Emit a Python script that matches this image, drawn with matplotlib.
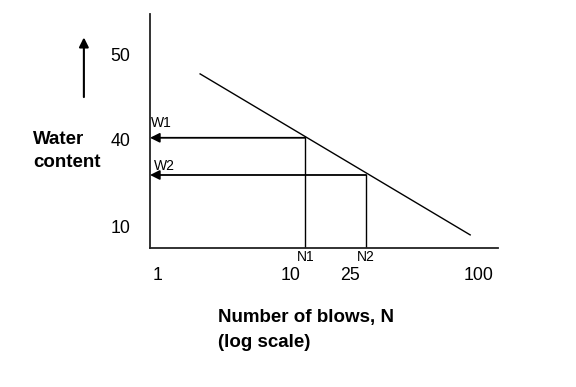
import matplotlib
matplotlib.use("Agg")
import matplotlib.pyplot as plt

plt.rcParams['font.family'] = ['Liberation Sans', 'DejaVu Sans']

# Schematic coordinates (arbitrary 0-100 units on both axes)
flow_x = [14.4, 92.0]          # flow line, log N position
flow_y = [74.4, 5.6]           # flow line, water content position
point_x = [44.6, 62.1]         # N1, N2 positions
point_y = [47.1, 31.2]         # W1, W2 levels
point_n_labels = ['N1', 'N2']
point_w_labels = ['W1', 'W2']
xtick_pos = [2.3, 40.5, 57.5, 94.3]
xtick_labels = ['1', '10', '25', '100']
ytick_pos = [82.5, 46.2, 9.4]
ytick_labels = ['50', '40', '10']

fig = plt.figure(figsize=(5.76, 3.87), dpi=100)
ax = fig.add_axes([150/576, 1-248/387, 348/576, 234/387])
ax.set_xlim(0, 100)
ax.set_ylim(0, 100)
for s in ['top', 'right']:
    ax.spines[s].set_visible(False)
for s in ['left', 'bottom']:
    ax.spines[s].set_linewidth(1.3)
    ax.spines[s].set_color('#222222')

ax.set_xticks(xtick_pos, xtick_labels)
ax.set_yticks(ytick_pos, ytick_labels)
ax.tick_params(axis='both', length=0, labelsize=12.8)
ax.tick_params(axis='x', pad=14)
ax.tick_params(axis='y', pad=14)

ax.plot(flow_x, flow_y, color='black', lw=1.0)

for x, y, nl, wl, dx, dy in zip(point_x, point_y, point_n_labels, point_w_labels,
                                [0.3, 1.1], [6.3, 3.8]):
    ax.plot([x, x], [0, y], color='black', lw=1.0)
    ax.annotate('', xy=(0, y), xytext=(x, y),
                arrowprops=dict(arrowstyle='-|>', color='black', lw=1.3,
                                mutation_scale=14, shrinkA=0, shrinkB=0))
    ax.text(x, -3.8, nl, ha='center', va='center', fontsize=10)
    ax.text(dx, y + dy, wl, ha='left', va='center', fontsize=10)

# Up arrow beside y axis
ax.annotate('', xy=(-19.0, 90.0), xytext=(-19.0, 64.5), xycoords='data',
            arrowprops=dict(arrowstyle='-|>', color='black', lw=1.5,
                            mutation_scale=14, shrinkA=0, shrinkB=0),
            annotation_clip=False)

ax.text(-33.6, 46.2, 'Water', ha='left', va='center', fontsize=13.5,
        fontweight='bold', clip_on=False)
ax.text(-33.6, 36.4, 'content', ha='left', va='center', fontsize=13.5,
        fontweight='bold', clip_on=False)
ax.text(19.5, -29.9, 'Number of blows, N', ha='left', va='center', fontsize=13.5,
        fontweight='bold', clip_on=False)
ax.text(19.5, -40.2, '(log scale)', ha='left', va='center', fontsize=13.5,
        fontweight='bold', clip_on=False)

fig.savefig('out.png', dpi=100)
